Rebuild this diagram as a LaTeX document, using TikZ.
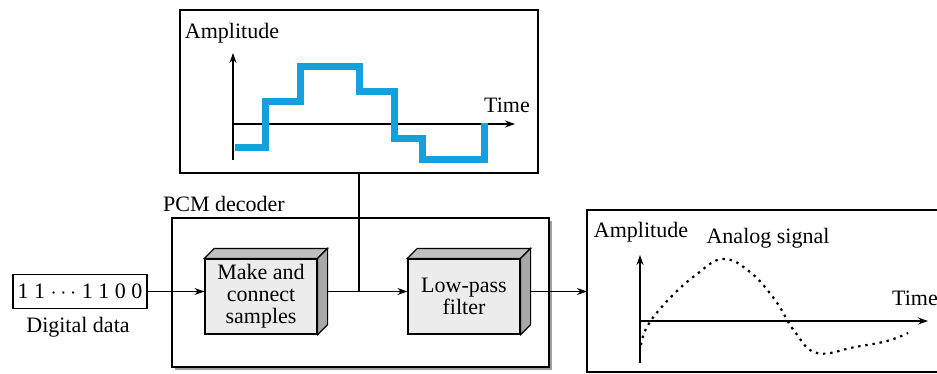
\documentclass[tikz,border=0pt]{standalone}
\usepackage{fontspec}
\setmainfont{Liberation Serif}
\usetikzlibrary{arrows.meta,shadows}
\definecolor{stairblue}{RGB}{20,160,220}
\tikzset{
  arr/.style={-{Stealth[length=5pt,width=3.5pt]}},
  panel/.style={draw,line width=0.8pt,inner sep=0pt},
  block/.style={draw,line width=0.6pt,fill=gray!15,align=center,inner sep=0pt,
    minimum width=56pt,minimum height=37.5pt},
  topface/.style={draw,line width=0.6pt,fill=gray!50},
  sideface/.style={draw,line width=0.6pt,fill=gray!68},
  axis/.style={arr,line width=0.6pt},
  sigdot/.style={line width=1.1pt,dash pattern=on 1.2pt off 2.4pt}
}
\begin{document}
\begin{tikzpicture}[x=0.5pt,y=-0.5pt,every node/.append style={font=\fontsize{11}{11}\selectfont}]
\useasboundingbox (0,0) rectangle (937,374);
\clip (0,0) rectangle (937,374);

\node[panel,minimum width=179pt,minimum height=81.5pt] (sig) at (359,91.5) {};
\node (amp1) at (232,33) {Amplitude};
\draw[axis] (233,160) -- (233,53);
\draw[axis] (233,124) -- (515,124);
\node (time1) at (507,105) {Time};
\draw[stairblue,line width=3.5pt] (235,148) -- (265,148) -- (265,102) -- (300,102) -- (300,67)
  -- (359,67) -- (359,92) -- (394,92) -- (394,139) -- (422,139) -- (422,160) -- (484,160) -- (484,123);

\node (pcmlabel) at (224,204) {PCM decoder};
\node[panel,fill=white,minimum width=188.5pt,minimum height=74.5pt,
  drop shadow={shadow xshift=1.5pt,shadow yshift=-1.5pt,fill=gray!75,opacity=1}] (pcm) at (360.5,292.5) {};

\node[block] (mk) at (261,296.5) {Make and\\connect\\samples};
\draw[topface] (mk.north west) -- ([shift={(10,-10)}]mk.north west) -- ([shift={(10,-10)}]mk.north east) -- (mk.north east) -- cycle;
\draw[sideface] (mk.north east) -- ([shift={(10,-10)}]mk.north east) -- ([shift={(10,-10)}]mk.south east) -- (mk.south east) -- cycle;

\node[block] (lp) at (464,296.5) {Low-pass\\filter};
\draw[topface] (lp.north west) -- ([shift={(10,-10)}]lp.north west) -- ([shift={(10,-10)}]lp.north east) -- (lp.north east) -- cycle;
\draw[sideface] (lp.north east) -- ([shift={(10,-10)}]lp.north east) -- ([shift={(10,-10)}]lp.south east) -- (lp.south east) -- cycle;

\node[draw,line width=0.6pt,minimum width=67pt,minimum height=17pt,inner sep=0pt] (dd) at (80,291.5) {1 1 $\cdots$ 1 1 0 0};
\node (ddlabel) at (78,327) {Digital data};

\coordinate (mkin) at ([shift={(0,-5)}]mk.west);
\coordinate (mkout) at ([shift={(10,-5)}]mk.east);
\coordinate (lpin) at ([shift={(0,-5)}]lp.west);
\coordinate (lpout) at ([shift={(10,-5)}]lp.east);
\coordinate (ana) at (587,210);

\draw[arr,line width=0.6pt] (dd.east) -- (mkin);
\draw[arr,line width=0.6pt] (mkout) -- (lpin);
\draw[line width=0.6pt] (sig.south) -- (sig.south |- mkout);
\draw[arr,line width=0.6pt] (lpout) -- (ana |- lpout);

\draw[line width=0.8pt] (ana) rectangle (960,372);
\node (amp2) at (641,232) {Amplitude};
\node (analog) at (768,238) {Analog signal};
\draw[axis] (640,363) -- (640,255);
\draw[axis] (640,321) -- (928,321);
\node (time2) at (915,298) {Time};
\draw[sigdot] plot[smooth,tension=0.7] coordinates {(641,345) (648,325) (670,298) (697,274) (723,259)
  (750,272) (775,300) (795,332) (817,353) (855,347) (887,341) (908,333)};

\end{tikzpicture}
\end{document}
